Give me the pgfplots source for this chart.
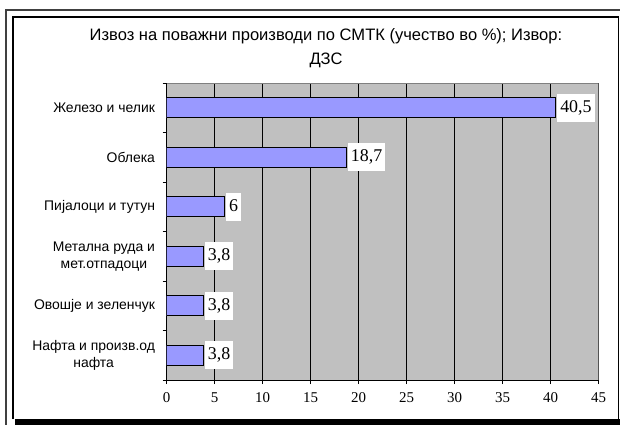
\documentclass[border=0pt]{standalone}
\usepackage{fontspec}
\setmainfont{Liberation Serif}
\newfontfamily\arial{Liberation Sans}
\usepackage{pgfplots}
\pgfplotsset{compat=1.18}
\definecolor{plotgray}{HTML}{C0C0C0}
\definecolor{barblue}{HTML}{9999FF}
\definecolor{framegray}{HTML}{404040}

\begin{document}
\begin{tikzpicture}
\useasboundingbox (0,0) rectangle (620bp,-425bp);
% frame round the chart
\draw[framegray, line width=1.6bp] (6bp,-425bp) -- (6bp,-10bp) -- (620bp,-10bp);
\draw[black, line width=1.5bp] (13bp,-419bp) -- (13bp,-16.8bp) -- (618.5bp,-16.8bp) -- (618.5bp,-425bp);
\fill[black] (15bp,-419bp) rectangle (620bp,-425bp);
% title
\node[font=\arial\fontsize{16.6}{24}\selectfont, align=center] at (326bp,-48bp)
  {Извоз на поважни производи по СМТК (учество во \%); Извор:\\ДЗС};

\begin{axis}[
    at={(166.5bp,-380bp)}, anchor=south west,
    scale only axis, width=432bp, height=297bp,
    /pgf/number format/assume math mode=true,
    /pgf/number format/use comma,
    xbar, bar width=20bp,
    xmin=0, xmax=45, ymin=0.5, ymax=6.5, y dir=reverse,
    axis lines=left, axis line style={-, black, line width=0.8bp},
    axis background/.style={fill=plotgray},
    tick align=outside, major tick length=4bp,
    tick style={black, line width=0.8bp},
    xtick={0,5,...,45},
    xmajorgrids, grid style={black, line width=0.6bp},
    xticklabel style={font=\fontsize{15}{18}\selectfont, yshift=-5bp},
    ytick={0.5,1.5,...,6.5}, yticklabels={},
    extra y ticks={1,2,3,4,5,6},
    extra y tick labels={Железо и челик, Облека, Пијалоци и тутун,
      {Метална руда и\\мет.отпадоци}, Овошје и зеленчук,
      {Нафта и произв.од\\нафта}},
    extra y tick style={major tick length=0pt,
      yticklabel style={font=\arial\fontsize{14}{17}\selectfont, align=center, xshift=-8bp}},
    nodes near coords,
    every node near coord/.append style={anchor=west, fill=white,
      font=\fontsize{18}{21}\selectfont, inner xsep=3bp, text height=12.5bp,
      text depth=3.5bp, inner ysep=6bp, xshift=1.5bp},
]
\addplot[fill=barblue, draw=black, line width=0.9bp] coordinates {
    (40.5,1) (18.7,2) (6,3) (3.8,4) (3.8,5) (3.8,6)
};
\draw[gray, line width=0.8bp] (axis description cs:0,1) -- (axis description cs:1,1) -- (axis description cs:1,0);
\end{axis}
\end{tikzpicture}
\end{document}
